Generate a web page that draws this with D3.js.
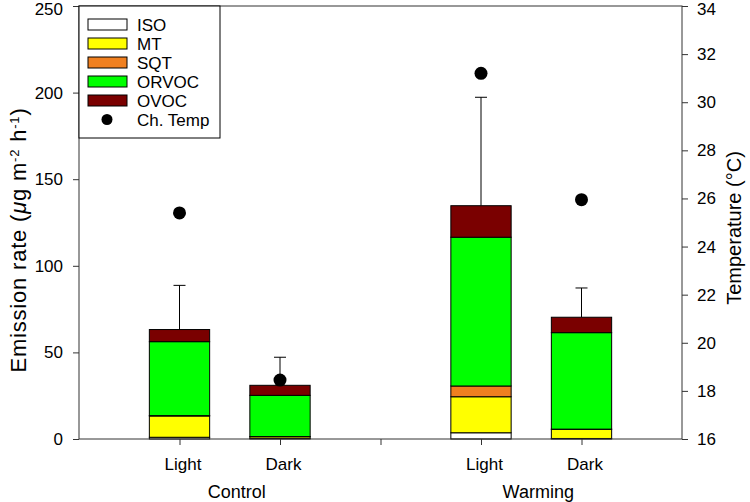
<!DOCTYPE html>
<html><head><meta charset="utf-8">
<script src="https://cdn.jsdelivr.net/npm/d3@7"></script>
<style>body{margin:0;background:#fff}svg{font-family:"Liberation Sans",Arial,sans-serif}</style>
</head><body>
<svg id="c" width="750" height="502"></svg>
<script>
const categories = ["Light","Dark","Light","Dark"];
const groups = ["Control","Warming"];
const ISO   = [1.0, 0.3, 3.6, 0.3];
const MT    = [12.3, 1.0, 20.8, 5.3];
const SQT   = [0.2, 0.1, 6.2, 0.1];
const ORVOC = [42.7, 23.8, 85.9, 55.7];
const OVOC  = [7.0, 5.8, 18.2, 8.9];
const errTop = [88.7, 47.2, 197.3, 87.2];
const temps = [25.4, 18.45, 31.2, 25.95];
const seriesNames = ["ISO","MT","SQT","ORVOC","OVOC"];
const seriesColors = ["#ffffff","#ffff00","#f08020","#00ff00","#7a0000"];
const leftTicks = [0,50,100,150,200,250];
const rightTicks = [16,18,20,22,24,26,28,30,32,34];

const svg = d3.select("#c");
const L=79, R=682, T=6, B=439;
const x = d3.scaleLinear().domain([0,6]).range([L,R]);
const xPos = [1,2,4,5];
const y = d3.scaleLinear().domain([0,250]).range([B,T]);
const y2 = d3.scaleLinear().domain([16,34]).range([B,T]);

const data = categories.map((c,i)=>({ISO:ISO[i],MT:MT[i],SQT:SQT[i],ORVOC:ORVOC[i],OVOC:OVOC[i]}));
const stacked = d3.stack().keys(seriesNames)(data);
const bw = x(0.6)-x(0);

// error bars
const eg = svg.append("g");
data.forEach((d,i)=>{
  const tot = seriesNames.reduce((s,k)=>s+d[k],0);
  eg.append("line").attr("x1",x(xPos[i])).attr("x2",x(xPos[i])).attr("y1",y(tot)).attr("y2",y(errTop[i])).attr("stroke","#000").attr("stroke-width",1);
  eg.append("line").attr("x1",x(xPos[i])-6).attr("x2",x(xPos[i])+6).attr("y1",y(errTop[i])).attr("y2",y(errTop[i])).attr("stroke","#000").attr("stroke-width",1);
});

stacked.forEach((s,si)=>{
  svg.append("g").selectAll("rect").data(s).join("rect")
    .attr("x",(d,i)=>x(xPos[i])-bw/2).attr("width",bw)
    .attr("y",d=>y(d[1])).attr("height",d=>y(d[0])-y(d[1]))
    .attr("fill",seriesColors[si]).attr("stroke","#000").attr("stroke-width",1);
});

// temperature points
svg.append("g").selectAll("circle").data(temps).join("circle")
  .attr("cx",(d,i)=>x(xPos[i])).attr("cy",d=>y2(d)).attr("r",6.5).attr("fill","#000");

// axes
const fs = 17;
const ax = svg.append("g").attr("transform",`translate(${L},0)`).call(d3.axisLeft(y).tickValues(leftTicks).tickSize(6).tickPadding(10));
const ax2 = svg.append("g").attr("transform",`translate(${R},0)`).call(d3.axisRight(y2).tickValues(rightTicks).tickSize(6).tickPadding(9));
const ax3 = svg.append("g").attr("transform",`translate(0,${B})`).call(d3.axisBottom(x).tickValues([1,2,3,4,5]).tickSize(6).tickPadding(13).tickFormat(d=>{const k=xPos.indexOf(d);return k>=0?categories[k]:"";}));
[ax,ax2,ax3].forEach(a=>{a.selectAll("text").attr("font-size",fs).attr("fill","#000").attr("font-family","Liberation Sans, Arial, sans-serif");a.selectAll("line,path").attr("stroke","#333");});
ax.selectAll(".tick").filter(d=>d===250).select("text").attr("y",3);
ax2.selectAll(".tick").filter(d=>d===34).select("text").attr("y",3);
ax3.selectAll("text").attr("dx",3);
ax.select(".domain").remove(); ax2.select(".domain").remove(); ax3.select(".domain").remove();
// frame
svg.append("rect").attr("x",L).attr("y",T).attr("width",R-L).attr("height",B-T).attr("fill","none").attr("stroke","#333").attr("stroke-width",1);

// group labels
groups.forEach((g,i)=>{
  svg.append("text").attr("x",(x(xPos[2*i])+x(xPos[2*i+1]))/2 + 7).attr("y",498).attr("text-anchor","middle").attr("font-size",18).text(g);
});

// axis titles
const yt = svg.append("text").attr("transform",`translate(26,240) rotate(-90)`).attr("text-anchor","middle").attr("font-size",22).attr("letter-spacing",0.8);
yt.append("tspan").text("Emission rate (");
yt.append("tspan").attr("font-style","italic").text("μ");
yt.append("tspan").text("g m");
yt.append("tspan").attr("baseline-shift","super").attr("font-size",13).text("-2");
yt.append("tspan").text(" h");
yt.append("tspan").attr("baseline-shift","super").attr("font-size",13).text("-1");
yt.append("tspan").text(")");
svg.append("text").attr("transform",`translate(741,228) rotate(-90)`).attr("text-anchor","middle").attr("font-size",20).text("Temperature (°C)");

// legend
const lg = svg.append("g");
lg.append("rect").attr("x",L).attr("y",T).attr("width",141).attr("height",132).attr("fill","#fff").attr("stroke","#000").attr("stroke-width",1);
seriesNames.forEach((n,i)=>{
  const yy = 19 + i*19;
  lg.append("rect").attr("x",88).attr("y",yy).attr("width",39).attr("height",11).attr("fill",seriesColors[i]).attr("stroke","#000");
  lg.append("text").attr("x",137).attr("y",yy+11.5).attr("font-size",17).text(n);
});
lg.append("circle").attr("cx",107).attr("cy",19+5*19+5.5).attr("r",5.5).attr("fill","#000");
lg.append("text").attr("x",137).attr("y",19+5*19+11.5).attr("font-size",17).text("Ch. Temp");
</script>
</body></html>
